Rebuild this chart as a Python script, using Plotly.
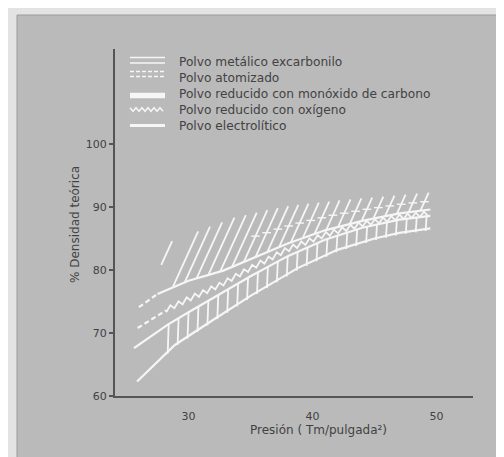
import numpy as np
import plotly.graph_objects as go

# ---------------- data ----------------
# Presión (Tm/pulgada²) vs % densidad teórica
EXC_P = [25.6, 28.3, 30.0, 32.0, 35.0, 38.0, 41.0, 44.0, 47.0, 49.5]          # excarbonilo (solid)
EXC_D = [67.6, 71.3, 73.3, 75.6, 79.0, 82.2, 84.8, 86.7, 88.0, 88.6]

ATOM_DASH_P = [26.0, 27.5]                                                    # atomizado (dashed start)
ATOM_DASH_D = [74.1, 76.2]
ATOM_P = [27.5, 30.0, 32.8, 35.0, 38.0, 41.0, 44.0, 47.0, 49.5]
ATOM_D = [76.2, 78.3, 79.9, 81.7, 84.2, 86.3, 87.8, 89.0, 89.6]

CO_P = [25.85, 28.9, 32.0, 35.0, 38.8, 42.0, 45.0, 47.0, 49.5]               # reducido con CO (lower)
CO_D = [62.3, 68.1, 72.1, 75.9, 80.3, 83.2, 85.0, 85.9, 86.6]

OXY_DASH_P = [25.9, 28.2]                                                     # reducido con oxígeno
OXY_DASH_D = [70.8, 73.6]
OXY_P = [28.2, 30.0, 32.5, 35.0, 38.0, 41.0, 44.0, 47.0, 49.5]
OXY_D = [73.6, 75.3, 77.5, 80.2, 83.2, 85.5, 87.2, 88.3, 88.9]

ELEC_BASE_P = [27.8, 28.3, 30.0, 32.8, 35.0, 38.0, 41.0, 44.0, 47.0, 49.5]    # electrolítico band
ELEC_BASE_D = [80.8, 77.0, 78.3, 79.9, 81.7, 84.2, 86.3, 87.8, 89.0, 89.6]
ELEC_TOP_P = [28.9, 31.5, 33.7, 36.1, 38.2, 40.0, 43.0, 46.0, 49.5]
ELEC_TOP_D = [84.6, 86.7, 88.3, 89.4, 90.2, 90.6, 91.2, 91.7, 92.3]

X_TICKS = [30, 40, 50]
Y_TICKS = [60, 70, 80, 90, 100]
LEGEND = ["Polvo metálico excarbonilo", "Polvo atomizado",
          "Polvo reducido con monóxido de carbono", "Polvo reducido con oxígeno",
          "Polvo electrolítico"]

# ---------------- layout geometry ----------------
W, H = 504, 457
ML, MR, MT, MB = 107, 39, 41, 69
PW, PH = W - ML - MR, H - MT - MB
XR = [24.07, 52.94]
YR = [60.0, 115.08]
PXP = PW / (XR[1] - XR[0])   # px per unit P
PXD = PH / (YR[1] - YR[0])   # px per unit D

WHITE = "#f6f6f6"
PANEL = "#bababa"
TEXT = "#424242"
FONT = "DejaVu Sans"


def px(xp, yp):
    return (xp - ML) / PW, (H - MB - yp) / PH


def ip(p, P, D):
    return float(np.interp(p, P, D))


fig = go.Figure()

def add_line(xs, ys, width=2.2, dash=None):
    fig.add_trace(go.Scatter(x=xs, y=ys, mode="lines", showlegend=False, hoverinfo="skip",
                             line=dict(color=WHITE, width=width, dash=dash)))

# main curves
add_line(EXC_P, EXC_D)
add_line(ATOM_DASH_P, ATOM_DASH_D, dash="5px,3px")
add_line(ATOM_P, ATOM_D)
add_line(CO_P, CO_D)
add_line(OXY_DASH_P, OXY_DASH_D, dash="5px,3px")

# zigzag along the oxygen curve
zx, zy = [], []
k = 0
for p in np.arange(OXY_P[0], OXY_P[-1] + 1e-9, 0.33):
    zx.append(p)
    zy.append(ip(p, OXY_P, OXY_D) + (0.5 if k % 2 else -0.3))
    k += 1
add_line(zx, zy, width=1.8)

# ladder rungs between CO curve and excarbonilo curve
rx, ry = [], []
for p in np.arange(28.4, 49.6, 0.8):
    rx += [p, p - 0.08, None]
    ry += [ip(p, EXC_P, EXC_D), ip(p - 0.08, CO_P, CO_D) - 0.3, None]
add_line(rx, ry, width=1.8)

# diagonal hatching for electrolítico band
hx, hy = [], []
tx, ty = [], []
for p in np.arange(27.8, 49.0, 0.95):
    base = ip(p, ELEC_BASE_P, ELEC_BASE_D)
    dp = 1.0
    for _ in range(6):
        top = ip(min(p + dp, 49.6), ELEC_TOP_P, ELEC_TOP_D)
        dp = (top - base) * PXD / 2.2 / PXP
    q = min(p + dp, 49.6)
    top = ip(q, ELEC_TOP_P, ELEC_TOP_D)
    hx += [p, q, None]
    hy += [base, top, None]
    if p > 34:
        mid_p = p + 0.5 * (q - p)
        mid_d = base + 0.5 * (top - base)
        tx += [mid_p - 0.35, mid_p + 0.35, None]
        ty += [mid_d, mid_d, None]
add_line(hx, hy, width=1.8)
add_line(tx, ty, width=1.4)

# ---------------- shapes: panel + legend swatches ----------------
shapes = []
x0, y1 = px(9, 7)
x1, y0 = px(W + 2, H + 2)
shapes.append(dict(type="rect", xref="paper", yref="paper", x0=x0, y0=y0, x1=x1, y1=y1,
                   fillcolor=PANEL, line=dict(color="#9a9a9a", width=1), layer="below"))

def seg(xa, ya, xb, yb, width=1.6, dash=None):
    a = px(xa, ya); b = px(xb, yb)
    shapes.append(dict(type="line", xref="paper", yref="paper", x0=a[0], y0=a[1], x1=b[0], y1=b[1],
                       line=dict(color=WHITE, width=width, dash=dash)))

SX0, SX1 = 122, 157
ROWS = [54, 70, 86, 102, 118]
seg(SX0, 49.5, SX1, 49.5)
seg(SX0, 55, SX1, 55)
seg(SX0, 63.5, SX1, 63.5, dash="4px,2px")
seg(SX0, 68.5, SX1, 68.5, dash="4px,2px")
seg(SX0, 87.5, SX1, 87.5, width=5.5)
# zigzag swatch
zz = []
for i, xv in enumerate(range(SX0, SX1 + 1, 3)):
    zz.append(px(xv, 101.5 + (1.8 if i % 2 else -1.8)))
path = "M " + " L ".join(f"{a:.5f},{b:.5f}" for a, b in zz)
shapes.append(dict(type="path", xref="paper", yref="paper", path=path,
                   line=dict(color=WHITE, width=1.4)))
seg(SX0, 117.5, SX1, 117.5, width=3)

annotations = []
for txt, yv in zip(LEGEND, ROWS):
    ax, ay = px(169, yv)
    annotations.append(dict(x=ax, y=ay, xref="paper", yref="paper", text=txt, showarrow=False,
                            xanchor="left", yanchor="middle",
                            font=dict(family=FONT, size=12.2, color=TEXT)))

ax, ay = px(310, 422)
annotations.append(dict(x=ax, y=ay, xref="paper", yref="paper", text="Presión ( Tm/pulgada²)",
                        showarrow=False, xanchor="center", yanchor="middle",
                        font=dict(family=FONT, size=12, color=TEXT)))
ax, ay = px(67, 217)
annotations.append(dict(x=ax, y=ay, xref="paper", yref="paper", text="% Densidad teórica",
                        showarrow=False, textangle=-90, xanchor="center", yanchor="middle",
                        font=dict(family=FONT, size=12, color=TEXT)))

fig.update_layout(
    width=W, height=H,
    margin=dict(l=ML, r=MR, t=MT, b=MB, pad=0),
    paper_bgcolor="#e3e3e3",
    plot_bgcolor="rgba(0,0,0,0)",
    showlegend=False,
    shapes=shapes,
    annotations=annotations,
    xaxis=dict(range=XR, tickvals=X_TICKS, showgrid=False, zeroline=False,
               showline=True, linecolor="#555555", linewidth=2, ticks="",
               ticklabelstandoff=9,
               tickfont=dict(family=FONT, size=11, color=TEXT)),
    yaxis=dict(range=YR, tickvals=Y_TICKS, showgrid=False, zeroline=False,
               showline=True, linecolor="#555555", linewidth=2, ticks="outside",
               ticklen=4, tickcolor="#555555", tickwidth=1.5,
               tickfont=dict(family=FONT, size=11, color=TEXT)),
)

fig.write_html("out.html")
